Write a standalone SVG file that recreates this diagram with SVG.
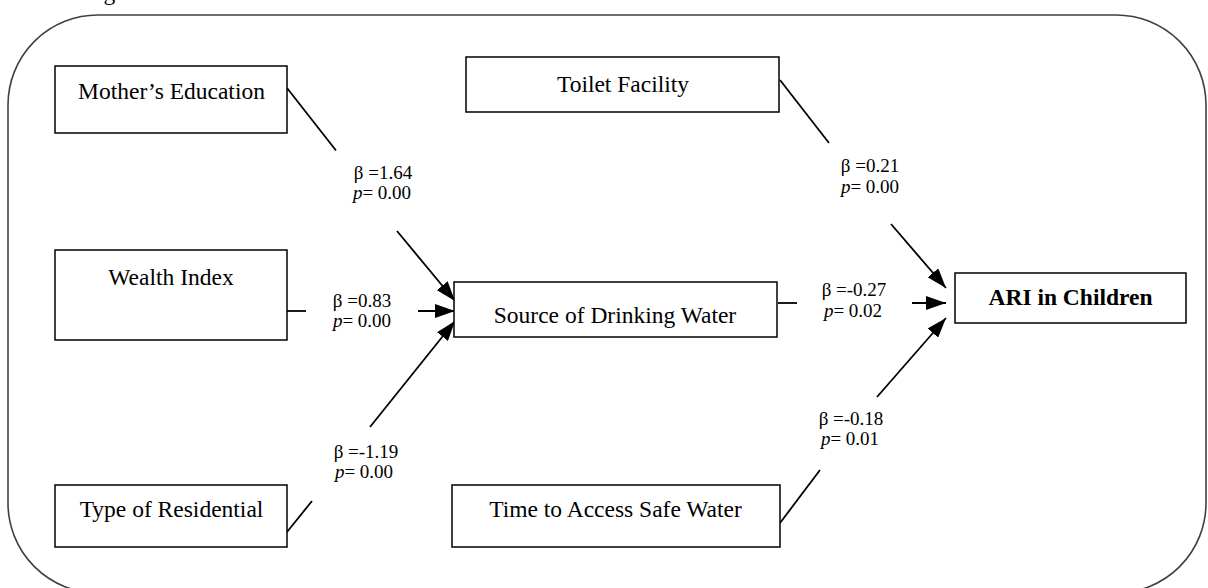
<svg xmlns="http://www.w3.org/2000/svg" width="1208" height="588" viewBox="0 0 1208 588">
<style>
.box{fill:#fff;stroke:#000;stroke-width:1.5}
.nt{font-family:"Liberation Serif","Times New Roman",serif;font-size:23.5px;fill:#000;text-anchor:middle}
.lb{font-family:"Liberation Serif","Times New Roman",serif;font-size:19px;fill:#000;text-anchor:middle}
.cn{stroke:#000;stroke-width:1.8;fill:none}
</style>
<defs>
<marker id="ah" markerUnits="userSpaceOnUse" markerWidth="20" markerHeight="14" refX="20" refY="7" orient="auto">
<path d="M0,0 L20,7 L0,14 z" fill="#000"/>
</marker>
</defs>
<rect width="1208" height="588" fill="#fff"/>
<text class="nt" x="84" y="-0.5" style="text-anchor:start">Figure</text>
<rect id="frame" x="8" y="15" width="1198" height="578" rx="90" ry="90" fill="none" stroke="#404040" stroke-width="1.6"/>
<g id="connectors">
<line class="cn" x1="287" y1="88" x2="336" y2="150.5"/>
<line class="cn" x1="397" y1="231" x2="455" y2="301" marker-end="url(#ah)"/>
<line class="cn" x1="287" y1="311" x2="306" y2="311"/>
<line class="cn" x1="418" y1="311" x2="455" y2="311" marker-end="url(#ah)"/>
<line class="cn" x1="287" y1="532" x2="312" y2="501"/>
<line class="cn" x1="370" y1="427" x2="455" y2="321" marker-end="url(#ah)"/>
<line class="cn" x1="778" y1="303" x2="797" y2="303"/>
<line class="cn" x1="912" y1="303" x2="946" y2="303" marker-end="url(#ah)"/>
<line class="cn" x1="780" y1="80" x2="829" y2="143"/>
<line class="cn" x1="891" y1="224" x2="946" y2="288" marker-end="url(#ah)"/>
<line class="cn" x1="780" y1="523" x2="820" y2="470"/>
<line class="cn" x1="877" y1="397" x2="946" y2="318" marker-end="url(#ah)"/>
<text class="lb" x="383" y="179">β =1.64</text>
<text class="lb" x="382" y="199"><tspan font-style="italic">p</tspan>= 0.00</text>
<text class="lb" x="362" y="306.5">β =0.83</text>
<text class="lb" x="362" y="326.5"><tspan font-style="italic">p</tspan>= 0.00</text>
<text class="lb" x="366" y="458">β =-1.19</text>
<text class="lb" x="364" y="478"><tspan font-style="italic">p</tspan>= 0.00</text>
<text class="lb" x="870" y="172">β =0.21</text>
<text class="lb" x="870" y="192.5"><tspan font-style="italic">p</tspan>= 0.00</text>
<text class="lb" x="854" y="296">β =-0.27</text>
<text class="lb" x="853" y="316.5"><tspan font-style="italic">p</tspan>= 0.02</text>
<text class="lb" x="851" y="425">β =-0.18</text>
<text class="lb" x="850" y="445"><tspan font-style="italic">p</tspan>= 0.01</text>
</g>
<g id="mother">
<rect class="box" x="55" y="66" width="232" height="67"/>
<text class="nt" x="171.5" y="99">Mother’s Education</text>
</g>
<g id="wealth">
<rect class="box" x="55" y="250" width="232" height="90"/>
<text class="nt" x="171" y="285">Wealth Index</text>
</g>
<g id="type">
<rect class="box" x="55" y="485" width="232" height="62"/>
<text class="nt" x="171.5" y="517">Type of Residential</text>
</g>
<g id="toilet">
<rect class="box" x="466" y="57" width="313" height="55"/>
<text class="nt" x="623" y="92">Toilet Facility</text>
</g>
<g id="source">
<rect class="box" x="454" y="282" width="323" height="55"/>
<text class="nt" x="615" y="323">Source of Drinking Water</text>
</g>
<g id="time">
<rect class="box" x="452" y="485" width="328" height="62"/>
<text class="nt" x="615.5" y="517">Time to Access Safe Water</text>
</g>
<g id="ari">
<rect class="box" x="955" y="273" width="231" height="50"/>
<text class="nt" x="1070.5" y="305" font-weight="bold">ARI in Children</text>
</g>
</svg>
